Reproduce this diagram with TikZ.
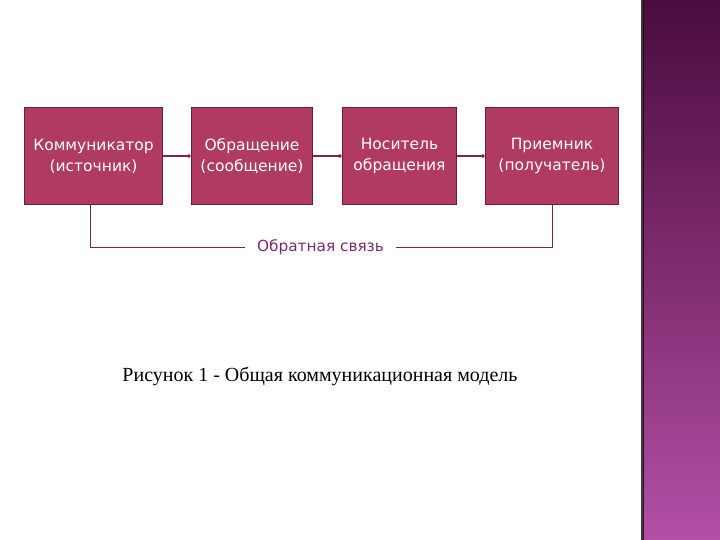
\documentclass[tikz,border=0pt]{standalone}
\usepackage{fontspec}
\setmainfont{Liberation Serif}
\newfontfamily\boxfont{DejaVu Sans}
\usetikzlibrary{arrows.meta}
\definecolor{boxfill}{RGB}{176,58,98}
\definecolor{boxline}{RGB}{110,28,58}
\definecolor{linkline}{RGB}{120,40,70}
\definecolor{fbtext}{RGB}{124,40,110}
\definecolor{paneltop}{RGB}{74,12,62}
\definecolor{panelmid}{RGB}{128,44,112}
\definecolor{panelbot}{RGB}{178,80,166}
\tikzstyle{stage} = [draw=boxline, line width=1.8pt, fill=boxfill, text=white, align=center, minimum height=97pt, font={\boxfont\fontsize{15.5}{21}\selectfont}]
\tikzstyle{link} = [draw=linkline, line width=1.6pt, -{Circle[length=3.5pt]}]
\tikzstyle{fback} = [draw=linkline, line width=0.9pt]

\begin{document}
\begin{tikzpicture}[x=1pt,y=-1pt]
    \useasboundingbox (0,0) rectangle (720,540);
    \shade[top color=paneltop, bottom color=panelbot, middle color=panelmid] (643,0) rectangle (720,540);
    \fill[black!70!paneltop, opacity=0.8] (641,0) rectangle (644,540);
    \node[stage, minimum width=138pt](k) at (93.5,156){Коммуникатор\\(источник)};
    \node[stage, minimum width=121pt](o) at (252,156){Обращение\\(сообщение)};
    \node[stage, minimum width=114pt](n) at (399.5,156){Носитель\\обращения};
    \node[stage, minimum width=133pt](p) at (552,156){Приемник\\(получатель)};
    \draw[link](k)--(o);
    \draw[link](o)--(n);
    \draw[link](n)--(p);
    \node[text=fbtext, font={\boxfont\fontsize{15.3}{17}\selectfont}, inner xsep=12pt](fb) at (320.5,247){Обратная связь};
    \draw[fback]([xshift=-3.5pt]k.south)|-(fb.west);
    \draw[fback](fb.east)-|(p.south);
    \node[font={\fontsize{20}{22}\selectfont}](cap) at (320,376){Рисунок 1 - Общая коммуникационная модель};
  \end{tikzpicture}
\end{document}
